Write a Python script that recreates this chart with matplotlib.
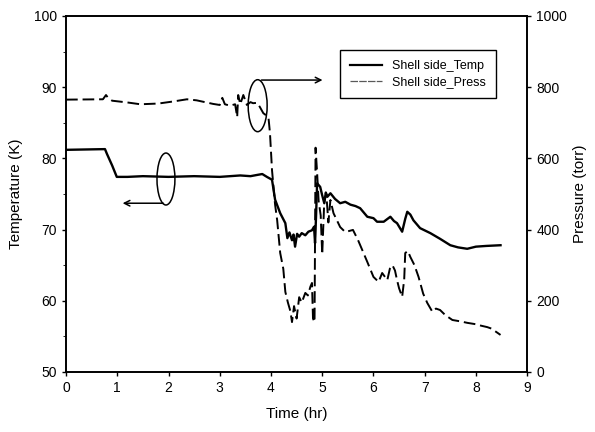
import matplotlib
matplotlib.use("Agg")
import matplotlib.pyplot as plt
from matplotlib.patches import Ellipse
from matplotlib.lines import Line2D
from matplotlib.ticker import MultipleLocator

plt.rcParams['font.family'] = ['Liberation Sans', 'DejaVu Sans']

# ==================================================
# DATA
# ==================================================
temp_time = [0, 0.76, 0.8, 0.9, 0.99, 1.2, 1.5, 2.0, 2.5, 3.0, 3.4, 3.6, 3.75, 3.83, 3.92,
             4.02, 4.08, 4.18, 4.28, 4.32, 4.36, 4.41, 4.44, 4.47, 4.51, 4.55, 4.6, 4.67,
             4.73, 4.8, 4.84, 4.86, 4.88, 4.9, 4.96, 5.0, 5.04, 5.07, 5.1, 5.16, 5.25, 5.35,
             5.45, 5.55, 5.65, 5.74, 5.88, 6.0, 6.07, 6.2, 6.33, 6.4, 6.46, 6.56, 6.62, 6.66,
             6.72, 6.78, 6.91, 7.11, 7.3, 7.5, 7.65, 7.83, 8.0, 8.2, 8.48]
temp_K = [81.2, 81.3, 80.6, 79.0, 77.4, 77.4, 77.5, 77.4, 77.5, 77.4, 77.6, 77.5, 77.7, 77.8, 77.4,
          77.0, 74.2, 72.3, 70.9, 68.8, 69.6, 68.5, 69.3, 67.6, 69.4, 69.0, 69.5, 69.2,
          69.7, 69.9, 70.4, 68.1, 72.0, 76.5, 76.0, 74.8, 73.7, 75.2, 74.6, 75.1, 74.3, 73.7,
          73.9, 73.5, 73.3, 73.0, 71.8, 71.6, 71.1, 71.1, 71.8, 71.2, 70.9, 69.7, 71.5, 72.5,
          72.1, 71.3, 70.2, 69.5, 68.7, 67.8, 67.5, 67.3, 67.6, 67.7, 67.8]

press_time = [0, 0.72, 0.78, 0.82, 0.9, 1.2, 1.45, 1.8, 2.1, 2.36, 2.55, 2.87, 3.0, 3.05, 3.1,
              3.2, 3.3, 3.34, 3.36, 3.4, 3.46, 3.53, 3.6, 3.65, 3.73, 3.78, 3.85, 3.95, 3.98,
              4.02, 4.08, 4.12, 4.18, 4.24, 4.28, 4.33, 4.38, 4.41, 4.45, 4.5, 4.55, 4.6, 4.67,
              4.72, 4.77, 4.8, 4.82, 4.85, 4.87, 4.9, 4.93, 4.97, 5.0, 5.04, 5.08, 5.12, 5.16,
              5.22, 5.35, 5.45, 5.6, 5.7, 5.78, 5.88, 6.0, 6.1, 6.17, 6.27, 6.32, 6.37, 6.42,
              6.46, 6.5, 6.56, 6.6, 6.62, 6.67, 6.72, 6.8, 6.88, 6.97, 7.05, 7.15, 7.22, 7.3,
              7.4, 7.54, 7.7, 7.83, 8.0, 8.1, 8.22, 8.3, 8.4, 8.48]
press_torr = [765, 766, 778, 770, 762, 757, 752, 754, 760, 766, 763, 753, 750, 770, 752,
              748, 752, 716, 778, 752, 778, 750, 758, 755, 756, 745, 727, 716, 671,
              567, 470, 427, 334, 290, 225, 195, 170, 140, 185, 150, 210, 195, 222,
              215, 240, 250, 150, 140, 630, 560, 480, 440, 330, 480, 500, 420, 483,
              446, 407, 393, 399, 370, 343, 309, 267, 253, 278, 258, 290, 300, 285,
              258, 235, 211, 260, 334, 340, 323, 300, 267, 220, 194, 169, 178, 174,
              160, 146, 142, 138, 134, 130, 126, 122, 112, 104]

x_ticks = [0, 1, 2, 3, 4, 5, 6, 7, 8, 9]
temp_ticks = [50, 60, 70, 80, 90, 100]
press_ticks = [0, 200, 400, 600, 800, 1000]
legend_labels = ["Shell side_Temp", "Shell side_Press"]

# ==================================================
# FIGURE
# ==================================================
fig = plt.figure(figsize=(5.95, 4.32), dpi=100)
ax1 = fig.add_axes([0.111, 0.139, 0.775, 0.824])
ax2 = ax1.twinx()

ax1.plot(temp_time, temp_K, color='black', lw=1.7, zorder=3)
ax2.plot(press_time, press_torr, color='black', lw=1.4, dashes=(6, 2.5))

ax1.set_xlim(0, 9)
ax1.set_ylim(50, 100)
ax2.set_ylim(0, 1000)
ax1.set_xticks(x_ticks)
ax1.set_yticks(temp_ticks)
ax2.set_yticks(press_ticks)
ax1.yaxis.set_minor_locator(MultipleLocator(5))

for ax in (ax1, ax2):
    ax.tick_params(labelsize=10, length=3, width=1, direction='out')
    ax.tick_params(which='minor', length=2)
    for s in ax.spines.values():
        s.set_linewidth(1.2)

ax1.set_xlabel("Time (hr)", fontsize=11, labelpad=9)
ax1.set_ylabel("Temperature (K)", fontsize=11, labelpad=8)
ax2.set_ylabel("Pressure (torr)", fontsize=11, labelpad=4)

# ellipses and arrows marking which curve belongs to which axis
ax1.add_patch(Ellipse((1.95, 77.1), 0.35, 7.3, fill=False, ec='black', lw=1.1))
ax1.annotate('', xy=(1.05, 73.7), xytext=(1.95, 73.7),
             arrowprops=dict(arrowstyle='->', color='black', lw=1.1))
ax1.add_patch(Ellipse((3.74, 87.4), 0.37, 7.3, fill=False, ec='black', lw=1.1))
ax1.annotate('', xy=(5.06, 91.0), xytext=(3.76, 91.0),
             arrowprops=dict(arrowstyle='->', color='black', lw=1.1))

handles = [Line2D([], [], color='black', lw=1.6),
           Line2D([], [], color='0.35', lw=0.9, dashes=(6, 1))]
leg = ax2.legend(handles, legend_labels, loc='upper right', bbox_to_anchor=(0.946, 0.921),
                 fontsize=9, fancybox=False, edgecolor='black', framealpha=1,
                 handlelength=2.6, borderpad=0.8, labelspacing=0.3)
leg.get_frame().set_linewidth(1.0)

plt.savefig("out.png", dpi=100)
